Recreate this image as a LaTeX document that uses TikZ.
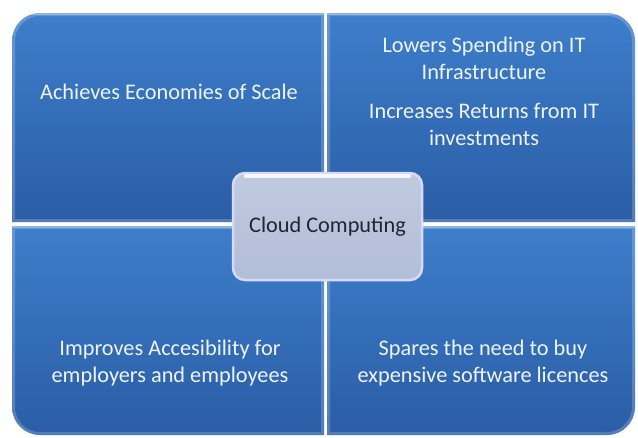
\documentclass[tikz,border=0pt]{standalone}
\usepackage{fontspec}
\setmainfont{Carlito}
\definecolor{quadTop}{HTML}{3E7ECB}
\definecolor{quadBot}{HTML}{2A5DA5}
\definecolor{labelText}{HTML}{EEF4FB}
\definecolor{hubTop}{HTML}{C0CAE0}
\definecolor{hubBot}{HTML}{B2BED7}
\definecolor{hubText}{HTML}{1E2533}
\begin{document}
\begin{tikzpicture}[x=1pt,y=-1pt,
  quad/.style={top color=quadTop, bottom color=quadBot, draw=none},
  rimlight/.style={line width=6pt, white, opacity=0.2},
  rimtop/.style={line width=4pt, white, opacity=0.3},
  label/.style={text=labelText, font=\fontsize{22.3}{27}\selectfont,
    align=center, anchor=base, inner sep=0pt},
  hub/.style={rounded corners=12pt, minimum width=189pt, minimum height=107pt,
    top color=hubTop, bottom color=hubBot, draw=white!85!blue, line width=2.5pt,
    text=hubText, font=\fontsize{22.3}{27}\selectfont, inner sep=0pt},
]
\useasboundingbox (0,0) rectangle (638,437);
\fill[white] (0,0) rectangle (638,437);

% top-left quadrant
\def\tl{(324,13) -- (40,13) .. controls (24.5,13) and (12,25.5) .. (12,41) -- (12,222) -- (324,222) -- cycle}
\shade[quad] \tl;
\begin{scope}\clip \tl; \draw[rimlight] \tl; \draw[rimtop] (12,13) -- (324,13); \end{scope}

% top-right quadrant
\def\tr{(327,13) -- (607,13) .. controls (622.5,13) and (635,25.5) .. (635,41) -- (635,222) -- (327,222) -- cycle}
\shade[quad] \tr;
\begin{scope}\clip \tr; \draw[rimlight] \tr; \draw[rimtop] (327,13) -- (635,13); \end{scope}

% bottom-left quadrant
\def\bl{(324,226) -- (12,226) -- (12,407) .. controls (12,422.5) and (24.5,435) .. (40,435) -- (324,435) -- cycle}
\shade[quad] \bl;
\begin{scope}\clip \bl; \draw[rimlight] \bl; \draw[rimtop] (12,226) -- (324,226); \end{scope}

% bottom-right quadrant
\def\br{(327,226) -- (635,226) -- (635,407) .. controls (635,422.5) and (622.5,435) .. (607,435) -- (327,435) -- cycle}
\shade[quad] \br;
\begin{scope}\clip \br; \draw[rimlight] \br; \draw[rimtop] (327,226) -- (635,226); \end{scope}

% quadrant texts (multi-line nodes sit on their last baseline)
\node[label] (scale) at (169,99) {Achieves Economies of Scale};
\node[label] (spend) at (484,79) {Lowers Spending on IT\\Infrastructure};
\node[label] (returns) at (484,145) {Increases Returns from IT\\investments};
\node[label] (access) at (170,382) {Improves Accesibility for\\employers and employees};
\node[label] (licence) at (483,382) {Spares the need to buy\\expensive software licences};

% central hub
\node[hub] (cloud) at (327.5,226.5) {Cloud Computing};
\draw[white, line width=4pt, opacity=0.85, line cap=round]
  ([xshift=14pt,yshift=-4pt]cloud.north west) -- ([xshift=-14pt,yshift=-4pt]cloud.north east);
\end{tikzpicture}
\end{document}
